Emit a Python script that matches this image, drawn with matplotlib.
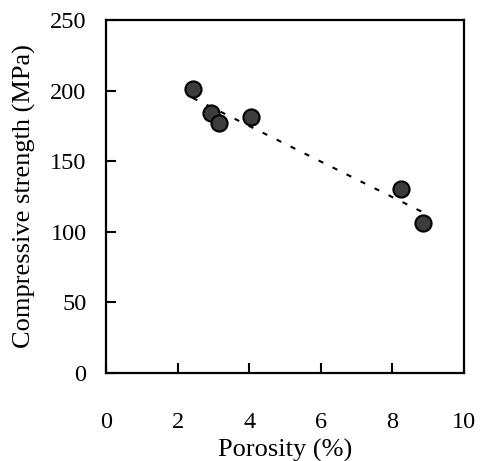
import matplotlib
matplotlib.use("Agg")
import matplotlib.pyplot as plt
import numpy as np

plt.rcParams["font.family"] = ["Liberation Serif", "DejaVu Serif"]

porosity = [2.42, 2.92, 3.15, 4.04, 8.23, 8.85]
strength = [201, 184, 177, 181, 130, 106]

x_ticks = [0, 2, 4, 6, 8, 10]
y_ticks = [0, 50, 100, 150, 200, 250]

fig = plt.figure(figsize=(4.81, 4.61), dpi=100)
ax = fig.add_axes([0.2204, 0.1909, 0.7443, 0.7657])

# linear trend line
coef = np.polyfit(porosity, strength, 1)
xs = np.array([min(porosity), max(porosity)])
ax.plot(xs, np.polyval(coef, xs), color="black", linewidth=1.5,
        linestyle=(0, (2.5, 5)), zorder=2)

ax.scatter(porosity, strength, s=135, color="#3c3c3c", edgecolors="black",
           linewidths=1.5, zorder=3)

ax.set_xlim(0, 10)
ax.set_ylim(0, 250)
ax.set_xticks(x_ticks)
ax.set_yticks(y_ticks)
ax.tick_params(direction="in", length=7, width=1.5, labelsize=17.5,
               top=False, right=False)
ax.tick_params(axis="x", pad=28)
ax.tick_params(axis="y", pad=14)
for s in ax.spines.values():
    s.set_linewidth(1.6)

ax.set_xlabel("Porosity (%)", fontsize=19, labelpad=4)
ax.set_ylabel("Compressive strength (MPa)", fontsize=19, labelpad=10)

fig.savefig("out.png", dpi=100)
